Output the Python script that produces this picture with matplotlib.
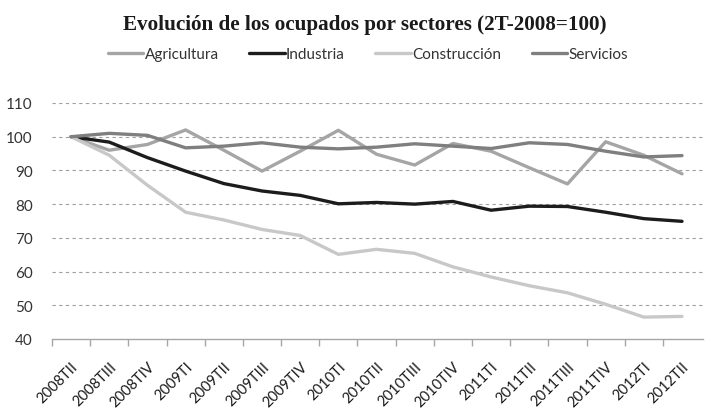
import matplotlib
matplotlib.use("Agg")
import matplotlib.pyplot as plt

quarters = ["2008TII", "2008TIII", "2008TIV", "2009TI", "2009TII", "2009TIII", "2009TIV",
            "2010TI", "2010TII", "2010TIII", "2010TIV", "2011TI", "2011TII", "2011TIII",
            "2011TIV", "2012TI", "2012TII"]
agricultura = [100, 96.0, 97.7, 102.0, 96.0, 89.8, 95.7, 101.9, 94.8, 91.6, 98.0, 95.7,
               90.8, 86.0, 98.5, 94.5, 89.0]
industria = [100, 98.4, 93.8, 89.8, 86.1, 83.9, 82.6, 80.1, 80.5, 80.0, 80.8, 78.2,
             79.4, 79.3, 77.6, 75.7, 74.9]
construccion = [100, 94.5, 85.6, 77.6, 75.3, 72.5, 70.7, 65.1, 66.6, 65.4, 61.4, 58.4,
                55.8, 53.7, 50.3, 46.5, 46.7]
servicios = [100, 101.0, 100.4, 96.7, 97.2, 98.2, 96.9, 96.4, 96.9, 97.9, 97.2, 96.5,
             98.2, 97.7, 95.7, 94.0, 94.4]

series = [("Agricultura", agricultura, "#a5a5a5"),
          ("Industria", industria, "#1c1c1c"),
          ("Construcción", construccion, "#c8c8c8"),
          ("Servicios", servicios, "#7f7f7f")]

fig = plt.figure(figsize=(7.05, 4.10), dpi=100)
ax = fig.add_axes([52/705, 70/410, (703-52)/705, (340-104)/410])

x = list(range(len(quarters)))
for name, vals, col in series:
    ax.plot(x, vals, color=col, lw=2.4, label=name, solid_capstyle="round", zorder=3)

ax.set_ylim(40, 110)
ax.set_yticks(range(40, 111, 10))
ax.set_xlim(-0.5, len(quarters) - 0.45)
for y in range(50, 111, 10):
    ax.axhline(y, color="#a0a0a0", lw=0.8, ls=(0, (3, 3)), zorder=1)

for s in ["top", "right", "left"]:
    ax.spines[s].set_visible(False)
ax.spines["bottom"].set_color("#a6a6a6")
ax.spines["bottom"].set_linewidth(1.0)

ax.set_xticks([i - 0.5 for i in range(len(quarters))], minor=False)
ax.set_xticklabels([])
ax.set_xticks(x, minor=True)
ax.set_xticklabels(quarters, minor=True, rotation=45, ha="right", va="top",
                   rotation_mode="anchor", fontsize=10.5, color="#1a1a1a", family="Lato")
ax.tick_params(axis="x", which="major", length=5, color="#a6a6a6", width=1.0)
ax.tick_params(axis="x", which="minor", length=0, pad=14.5)
ax.tick_params(axis="y", length=0, pad=14, labelsize=11, labelcolor="#333333")
for lab in ax.get_yticklabels():
    lab.set_family("Lato")

fig.text(0.517, 1 - 25/410, "Evolución de los ocupados por sectores (2T-2008=100)",
         ha="center", va="center", fontsize=15.2, fontweight="bold",
         family="Liberation Serif", color="#1a1a1a")

leg = fig.legend(loc="center", bbox_to_anchor=(0.522, 1 - 55/410), ncol=4, frameon=False,
                 prop={"family": "Lato", "size": 11}, handlelength=2.3, handletextpad=0.1,
                 columnspacing=2.0)
for t in leg.get_texts():
    t.set_color("#333333")

fig.savefig("out.png", dpi=100)
